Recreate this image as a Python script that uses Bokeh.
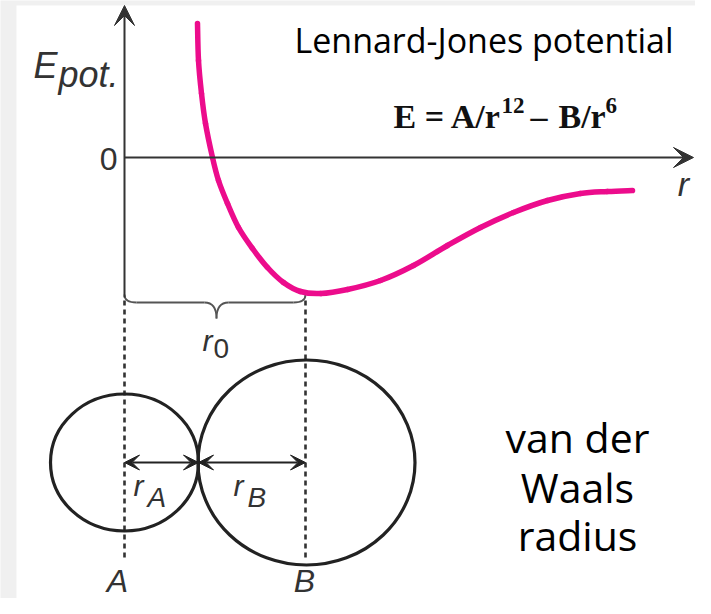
from bokeh.plotting import figure
from bokeh.models import Range1d, Arrow, VeeHead
from bokeh.core.properties import value
from bokeh.embed import file_html
from bokeh.resources import INLINE

# Lennard-Jones curve (r: px right of the E axis, E: px above the r axis)
curve_r = [73, 74, 77, 81, 88, 94, 103, 114, 128, 143, 159, 176, 196, 223, 256, 289, 323, 356, 389, 423, 456, 483, 508]
curve_E = [134, 97, 64, 34, 0, -23, -46, -70, -91, -110, -125, -134, -136, -132, -123, -108, -88, -70, -55, -43, -36, -34, -33]

# atoms
atom_labels = ["A", "B"]
atom_r = [0, 182]
atom_E = [-305, -305]
atom_w = [148, 217]
atom_h = [137, 205]
r_A = 74
r_0 = 181

INK = "#333333"
MAG = "#ec0c8c"

p = figure(width=695, height=598, output_backend="svg", toolbar_location=None,
           x_range=Range1d(-124, 571), y_range=Range1d(-441, 157), min_border=0)
p.axis.visible = False
p.grid.visible = False
p.outline_line_color = None
p.background_fill_color = "#f0f0f0"
p.border_fill_color = "#f0f0f0"

# white sheet
p.quad(left=[-108], right=[600], top=[152], bottom=[-470], fill_color="white", line_color=None)

# axes
p.add_layout(Arrow(end=VeeHead(size=20, fill_color=INK, line_color=INK), x_start=0, y_start=-140,
                   x_end=0, y_end=152, line_color=INK, line_width=2))
p.add_layout(Arrow(end=VeeHead(size=20, fill_color=INK, line_color=INK), x_start=0, y_start=0,
                   x_end=569, y_end=0, line_color=INK, line_width=2))

# brace under the axis from r=0 to r0
bx0 = [0, 80, 92, 169]
by0 = [-137, -145, -161, -145]
bx1 = [12, 92, 104, 181]
by1 = [-145, -161, -145, -137]
bcx0 = [0, 88, 92, 177]
bcy0 = [-143, -145, -151, -145]
bcx1 = [5, 92, 96, 181]
bcy1 = [-145, -151, -145, -143]
p.bezier(x0=bx0, y0=by0, x1=bx1, y1=by1, cx0=bcx0, cy0=bcy0, cx1=bcx1, cy1=bcy1,
         line_color="#555555", line_width=1.8)
p.segment(x0=[12, 104], y0=[-145, -145], x1=[80, 169], y1=[-145, -145], line_color="#555555", line_width=1.8)

# dashed verticals
p.segment(x0=[atom_r[0], r_0], y0=[-143, -143], x1=[atom_r[0], r_0], y1=[-403, -403],
          line_color=INK, line_width=2.6, line_dash="5 4")

# atoms
p.ellipse(x=atom_r, y=atom_E, width=atom_w, height=atom_h, fill_color=None, line_color="#222222", line_width=3.2)

# radius arrows
for xs, xe in [(0, r_A), (r_A, r_0)]:
    p.add_layout(Arrow(start=VeeHead(size=15, fill_color="#222222", line_color="#222222"),
                       end=VeeHead(size=15, fill_color="#222222", line_color="#222222"),
                       x_start=xs, y_start=-305, x_end=xe, y_end=-305, line_color="#222222", line_width=2))

# curve: drawn through the read points as a smooth (Catmull-Rom) path
n = len(curve_r)
pts = list(zip(curve_r, curve_E))
x0, y0, x1, y1, cx0, cy0, cx1, cy1 = [], [], [], [], [], [], [], []
for i in range(n - 1):
    pm = pts[max(i - 1, 0)]
    pa = pts[i]
    pb = pts[i + 1]
    pn = pts[min(i + 2, n - 1)]
    x0.append(pa[0]); y0.append(pa[1]); x1.append(pb[0]); y1.append(pb[1])
    cx0.append(pa[0] + (pb[0] - pm[0]) / 6); cy0.append(pa[1] + (pb[1] - pm[1]) / 6)
    cx1.append(pb[0] - (pn[0] - pa[0]) / 6); cy1.append(pb[1] - (pn[1] - pa[1]) / 6)
p.bezier(x0=x0, y0=y0, x1=x1, y1=y1, cx0=cx0, cy0=cy0, cx1=cx1, cy1=cy1,
         line_color=MAG, line_width=5.5, line_cap="round")

HEL = "Liberation Sans"
SER = "Liberation Serif"
CAL = "Open Sans"
SHIFT = {HEL: 0.3465, SER: 0.3375, CAL: 0.388}

def txt(x, y, s, size, font=HEL, style="normal", color=INK, align="left"):
    yy = y + SHIFT[font] * size
    p.text(x=[x], y=[yy], text=[s], text_font=value(font), text_font_size=f"{size}px",
           text_font_style=style, text_color=color, text_align=align, text_baseline="alphabetic")

# axis labels
txt(-91, 80, "E", 36, style="italic")
txt(-66, 71, "pot.", 36, style="italic")
txt(-7, -13, "0", 32, align="right")
txt(559, -38, "r", 34, style="italic", align="center")

# r0, rA, rB
txt(78, -193, "r", 30, style="italic")
txt(89, -201, "0", 28)
txt(9, -338, "r", 30, style="italic")
txt(23, -350, "A", 28, style="italic")
txt(109, -338, "r", 30, style="italic")
txt(123, -350, "B", 28, style="italic")
txt(atom_r[0] - 7, -435, atom_labels[0], 32, style="italic", align="center")
txt(atom_r[1] - 2, -435, atom_labels[1], 32, style="italic", align="center")

# titles
txt(359.5, 104, "Lennard-Jones potential", 34, font=CAL, color="black", align="center")
for x, y, s, sz in [(269, 30, "E = A/r", 34), (377, 44, "12", 23), (406, 30, "\u2013", 34),
                    (434, 30, "B/r", 34), (481, 44, "6", 23)]:
    txt(x, y, s, sz, font=SER, style="bold", color="#111111")

for y, s in [(-295, "van der"), (-345, "Waals"), (-393, "radius")]:
    txt(453, y, s, 41, font=CAL, color="black", align="center")

open("out.html", "w").write(file_html(p, INLINE))
